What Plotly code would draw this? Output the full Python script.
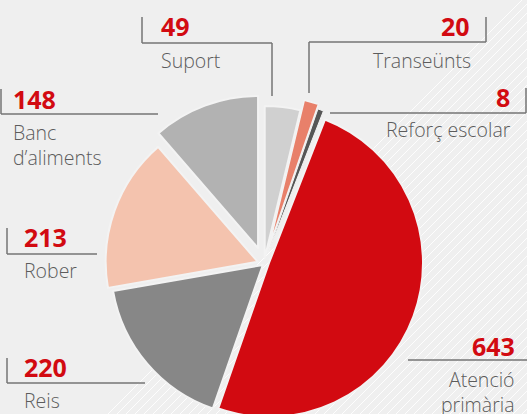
import plotly.graph_objects as go

# slices, clockwise from 12 o'clock
labels = ["Suport", "Transeünts", "Reforç escolar", "Atenció primària", "Reis", "Rober", "Banc d’aliments"]
values = [49, 20, 8, 643, 220, 213, 148]
colors = ["#d0d0d0", "#e8806a", "#565656", "#d20a11", "#878787", "#f4c3ae", "#b2b2b2"]

# how far each small slice sits out from the centre (the big red one is drawn on its own)
pulls = [0.04, 0.11, 0.08, 0.0, 0.01, 0.044, 0.112]
# thinner gap lines on the tiny slices so they stay visible
edge_widths = [2, 1.5, 1, 2, 2, 2, 2]
BIG = labels.index("Atenció primària")

W, H = 527, 460  # page is taller than the window so the pie gets cut at the bottom
BG = "#efefef"
RED = "#d20a11"
GREY_TXT = "#5c5c5c"
GREY_LINE = "#757575"
GAP = "#f3f3f3"
CLEAR = "rgba(0,0,0,0)"

PIE_CX, PIE_CY, PIE_R = 264, 264, 152      # rest of the pie
BIG_CX, BIG_CY, BIG_R = 269, 263, 154      # exploded red slice


def px(x):
    return x / W


def py(y):
    return 1 - y / H


def pie_domain(cx, cy, half):
    return dict(x=[px(cx - half), px(cx + half)], y=[py(cy + half), py(cy - half)])


fig = go.Figure()

# red slice on its own, a little bigger and pushed out
fig.add_trace(go.Pie(
    labels=labels,
    values=values,
    sort=False,
    direction="clockwise",
    rotation=0,
    marker=dict(
        colors=[c if i == BIG else CLEAR for i, c in enumerate(colors)],
        line=dict(color=GAP, width=[w if i == BIG else 0 for i, w in enumerate(edge_widths)]),
    ),
    textinfo="none",
    hoverinfo="skip",
    showlegend=False,
    domain=pie_domain(BIG_CX, BIG_CY, BIG_R),
))

# every other slice
fig.add_trace(go.Pie(
    labels=labels,
    values=values,
    sort=False,
    direction="clockwise",
    rotation=0,
    pull=pulls,
    marker=dict(
        colors=[CLEAR if i == BIG else c for i, c in enumerate(colors)],
        line=dict(color=GAP, width=[0 if i == BIG else w for i, w in enumerate(edge_widths)]),
    ),
    textinfo="none",
    hoverinfo="label+value",
    showlegend=False,
    domain=pie_domain(PIE_CX, PIE_CY, PIE_R * (1 + max(pulls))),
))

shapes = []

# faint diagonal hatching in the lower right
for c in range(522, W + H + 10, 9):
    shapes.append(dict(
        type="line", xref="paper", yref="paper", layer="below",
        x0=px(c), y0=py(0), x1=px(c - H), y1=py(H),
        line=dict(color="rgba(255,255,255,0.85)", width=1),
    ))

# connector brackets (x, y points in pixels)
brackets = [
    [(142, 17), (142, 43), (272, 43), (272, 96)],    # Suport
    [(486, 17), (486, 42), (309, 42), (309, 93)],    # Transeünts
    [(526, 88), (526, 113), (330, 113)],             # Reforç escolar
    [(1, 89), (1, 114), (158, 114)],                 # Banc d'aliments
    [(7, 228), (7, 254), (97, 254)],                 # Rober
    [(7, 358), (7, 383), (145, 383)],                # Reis
    [(408, 360), (527, 360)],                        # Atenció primària
]
for pts in brackets:
    for (xa, ya), (xb, yb) in zip(pts[:-1], pts[1:]):
        shapes.append(dict(
            type="line", xref="paper", yref="paper",
            x0=px(xa), y0=py(ya), x1=px(xb), y1=py(yb),
            line=dict(color=GREY_LINE, width=1.5),
        ))

# label placement: (value x, value y, name x, name y, anchor)
label_pos = {
    "Suport": (159, 26, 159, 60, "left"),
    "Transeünts": (472, 26, 473, 60, "right"),
    "Reforç escolar": (512, 97, 513, 130, "right"),
    "Atenció primària": (517, 346, 517, 392, "right"),
    "Reis": (22, 367, 22, 400, "left"),
    "Rober": (22, 237, 22, 270, "left"),
    "Banc d’aliments": (11, 99, 11, 145, "left"),
}
name_text = {
    "Atenció primària": "Atenció<br>primària",
    "Banc d’aliments": "Banc<br>d’aliments",
}

annotations = []
for lab, val in zip(labels, values):
    vx, vy, nx, ny, anchor = label_pos[lab]
    annotations.append(dict(
        x=px(vx), y=py(vy), xref="paper", yref="paper",
        text=f"<b>{val}</b>", showarrow=False,
        xanchor=anchor, yanchor="middle",
        font=dict(family="Open Sans", size=25, color=RED, weight=800),
    ))
    annotations.append(dict(
        x=px(nx), y=py(ny), xref="paper", yref="paper",
        text=name_text.get(lab, lab), showarrow=False,
        xanchor=anchor, yanchor="middle", align=anchor,
        font=dict(family="Open Sans", size=19.5, color=GREY_TXT, weight=300),
    ))

fig.update_layout(
    width=W,
    height=H,
    margin=dict(l=0, r=0, t=0, b=0),
    paper_bgcolor=BG,
    plot_bgcolor=BG,
    shapes=shapes,
    annotations=annotations,
)

fig.write_html(
    "out.html",
    config={"displayModeBar": False},
    post_script="document.documentElement.style.overflow='hidden';"
                "document.body.style.overflow='hidden';"
                "document.body.style.margin='0';",
)
